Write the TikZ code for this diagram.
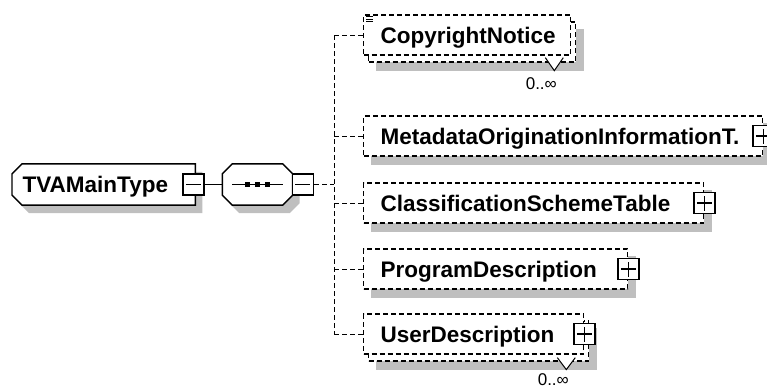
\documentclass[tikz,border=0pt]{standalone}
\usepackage{fontspec}
\setmainfont{Liberation Sans}
\usetikzlibrary{positioning}
\pgfdeclarelayer{shadelayer}
\pgfsetlayers{shadelayer,main}

\begin{document}
\begin{tikzpicture}[x=1pt, y=-1pt, line width=1.3pt,
    elemfont/.style={font=\fontsize{22.5}{26}\selectfont\bfseries, text height=16pt, text depth=0pt},
    compbox/.style={elemfont, minimum height=40pt, inner xsep=10pt, inner ysep=0pt, align=left, anchor=west},
    elem/.style={elemfont, draw, dash pattern=on 5pt off 3pt, fill=white, minimum height=40pt, inner xsep=17pt, inner ysep=0pt, align=left, anchor=west},
    elemback/.style={draw, dash pattern=on 5pt off 3pt, fill=white, minimum height=40pt, inner sep=0pt, anchor=west},
    dropshade/.style={fill=black!25, draw=none},
    outline/.style={draw, line width=1.4pt, fill=white},
    conn/.style={draw, dash pattern=on 5pt off 3pt},
    link/.style={draw, line width=1.4pt},
    toggle/.style={draw, line width=1.4pt, fill=white, minimum width=21pt, minimum height=21pt, inner sep=0pt},
    minusbox/.style={toggle, path picture={\draw[line width=1.3pt] ([xshift=3pt]path picture bounding box.west) -- ([xshift=-3pt]path picture bounding box.east);}},
    plusbox/.style={toggle, path picture={\draw[line width=1.3pt] ([xshift=3pt]path picture bounding box.west) -- ([xshift=-3pt]path picture bounding box.east) ([yshift=3pt]path picture bounding box.south) -- ([yshift=-3pt]path picture bounding box.north);}},
    card/.style={font=\fontsize{17}{19}\selectfont, inner sep=0pt},
    notch/.style={draw, line width=1pt, fill=white}]

    \useasboundingbox (0,0) rectangle (767,389);

    \node [compbox, minimum width=182pt, text width=162pt] (main) at (12,184.5) {TVAMainType};
    \node [minusbox] (mainminus) at ([xshift=-2pt]main.east) {};

    \node [minimum width=69pt, minimum height=40pt, inner sep=0pt] (seq) at (257.5,184.5) {};
    \node [minusbox, anchor=west] (seqminus) at ([xshift=-1pt]seq.east) {};
    \draw [line width=1.4pt] ([xshift=10pt]seq.west) -- ([xshift=-10pt]seq.east);
    \foreach \dx in {-10,0,10}
        \fill ([shift={(\dx-2.5,-2.5)}]seq.center) rectangle ([shift={(\dx+2.5,2.5)}]seq.center);

    \coordinate (bus) at (334,184.5);

    \node [elemback, minimum width=207pt] (copyback) at (368,42) {};
    \node [elem, text width=173pt] (copy) at (363,35) {CopyrightNotice};
    \node [elem, text width=365pt] (meta) at (363,136) {MetadataOriginationInformationT.};
    \node [elem, text width=306pt] (class) at (363,203) {ClassificationSchemeTable};
    \node [elem, text width=230pt] (prog) at (363,269) {ProgramDescription};
    \node [elemback, minimum width=220pt] (userback) at (368,341) {};
    \node [elem, text width=186pt] (user) at (363,334) {UserDescription};

    \foreach \n in {meta,class,prog,user}
        \node [plusbox] (\n plus) at (\n.east) {};

    \foreach \dy in {2.5,5,7.5}
        \draw [line width=0.9pt] ([shift={(3,\dy)}]copy.north west) -- ++(7,0);

    \draw [notch] ([shift={(-31,-5)}]copyback.south east) -- ([shift={(-22,8)}]copyback.south east) -- ([shift={(-13,-5)}]copyback.south east);
    \node [card] (copycard) at ([shift={(-35,21)}]copyback.south east) {0..∞};
    \draw [notch] ([shift={(-32,-4)}]userback.south east) -- ([shift={(-23,8)}]userback.south east) -- ([shift={(-14,-4)}]userback.south east);
    \node [card] (usercard) at ([shift={(-36,17.5)}]userback.south east) {0..∞};

    \begin{pgfonlayer}{shadelayer}
        \foreach \dx/\dy/\sty in {7/8/dropshade, 0/0/outline} {
            \path [\sty] ([shift={(10+\dx,\dy)}]main.north west) -- ([shift={(\dx,\dy)}]main.north east)
                -- ([shift={(\dx,\dy)}]main.south east) -- ([shift={(10+\dx,\dy)}]main.south west)
                -- ([shift={(\dx,\dy-10)}]main.south west) -- ([shift={(\dx,\dy+10)}]main.north west) -- cycle;
            \path [\sty] ([shift={(10+\dx,\dy)}]seq.north west) -- ([shift={(\dx-10,\dy)}]seq.north east)
                -- ([shift={(\dx,\dy+10)}]seq.north east) -- ([shift={(\dx,\dy-10)}]seq.south east)
                -- ([shift={(\dx-10,\dy)}]seq.south east) -- ([shift={(10+\dx,\dy)}]seq.south west)
                -- ([shift={(\dx,\dy-10)}]seq.south west) -- ([shift={(\dx,\dy+10)}]seq.north west) -- cycle;
        }
        \foreach \n in {copyback,meta,class,prog,userback}
            \fill [dropshade] ([shift={(8,8)}]\n.north west) rectangle ([shift={(8,8)}]\n.south east);
    \end{pgfonlayer}

    \path [link] (mainminus.east) -- (seq.west);
    \path [conn] (seqminus.east) -- (bus);
    \path [conn] (copy.west -| bus) -- (user.west -| bus);
    \foreach \n in {copy,meta,class,prog,user}
        \path [conn] (\n.west -| bus) -- (\n.west);
\end{tikzpicture}
\end{document}
